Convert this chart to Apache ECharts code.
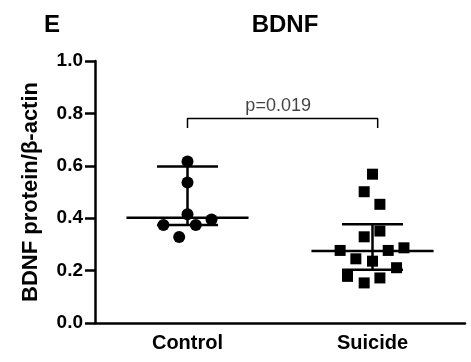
<!DOCTYPE html>
<html>
<head>
<meta charset="utf-8">
<script src="https://cdn.jsdelivr.net/npm/echarts@6/dist/echarts.min.js"></script>
<style>
  html, body { margin: 0; padding: 0; background: #fff; }
  #chart { width: 471px; height: 362px; }
</style>
</head>
<body>
<div id="chart"></div>
<script>
const groups = ['Control', 'Suicide']
const yTicks = [0, 0.2, 0.4, 0.6, 0.8, 1.0]

// per-point values with horizontal jitter (offset from group centre, in category units)
const controlValues = [0.616, 0.536, 0.415, 0.374, 0.374, 0.395, 0.328]
const controlJitter = [0.0, 0.0, 0.0, -0.13, 0.045, 0.13, -0.045]
const suicideValues = [0.568, 0.501, 0.453, 0.351, 0.329, 0.277, 0.277, 0.287, 0.245, 0.236, 0.211, 0.178, 0.172, 0.153]
const suicideJitter = [0.0, -0.045, 0.04, 0.04, -0.045, -0.175, 0.085, 0.17, -0.09, 0.0, 0.13, -0.135, 0.04, -0.045]

// median and interquartile marks per group
const medians = [0.402, 0.275]
const lowerQ = [0.374, 0.203]
const upperQ = [0.597, 0.377]

const pLabel = 'p=0.019'
const bracketY = 0.781
const bracketDrop = 0.744

const font = "'Liberation Sans', Arial, sans-serif"
const black = '#000'

function seg(x0, y0, x1, y1, width) {
  return {
    type: 'line',
    xAxisIndex: 1,
    data: [[x0, y0], [x1, y1]],
    symbol: 'none',
    silent: true,
    lineStyle: { color: black, width: width || 2.5 },
    z: 3
  }
}

const series = []
groups.forEach((_g, i) => {
  series.push(seg(i - 0.33, medians[i], i + 0.33, medians[i]))
  series.push(seg(i - 0.165, lowerQ[i], i + 0.165, lowerQ[i]))
  series.push(seg(i - 0.165, upperQ[i], i + 0.165, upperQ[i]))
  series.push(seg(i, lowerQ[i], i, upperQ[i]))
})

series.push({
  type: 'scatter',
  xAxisIndex: 1,
  symbol: 'circle',
  symbolSize: 12,
  itemStyle: { color: black, opacity: 1 },
  data: controlValues.map((v, k) => [0 + controlJitter[k], v]),
  z: 4
})
series.push({
  type: 'scatter',
  xAxisIndex: 1,
  symbol: 'rect',
  symbolSize: 11,
  itemStyle: { color: black, opacity: 1 },
  data: suicideValues.map((v, k) => [1 + suicideJitter[k], v]),
  z: 4
})

// significance bracket
series.push({
  type: 'line',
  xAxisIndex: 1,
  data: [[0, bracketDrop], [0, bracketY], [1.028, bracketY], [1.028, bracketDrop]],
  symbol: 'none',
  silent: true,
  lineStyle: { color: black, width: 1.5 }
})
series.push({
  type: 'scatter',
  xAxisIndex: 1,
  symbolSize: 0,
  silent: true,
  data: [[0.49, bracketY]],
  label: {
    show: true,
    position: 'top',
    distance: 3,
    formatter: pLabel,
    color: '#111',
    fontFamily: font,
    fontSize: 18
  }
})

const chart = echarts.init(document.getElementById('chart'))
chart.setOption({
  animation: false,
  backgroundColor: '#fff',
  title: [
    {
      text: 'BDNF',
      left: 280,
      top: 8,
      textAlign: 'center',
      textStyle: { fontFamily: font, fontWeight: 'bold', fontSize: 24, color: black }
    },
    {
      text: 'E',
      left: 39,
      top: 8,
      textStyle: { fontFamily: font, fontWeight: 'bold', fontSize: 24, color: black }
    }
  ],
  grid: { left: 95, right: 6, top: 61, bottom: 39 },
  xAxis: [
    {
      type: 'category',
      data: groups,
      boundaryGap: true,
      axisLine: { lineStyle: { color: black, width: 2.5 } },
      axisTick: { alignWithLabel: true, length: 9, lineStyle: { color: black, width: 2.5 } },
      axisLabel: { color: black, fontFamily: font, fontWeight: 'bold', fontSize: 20, margin: 10 }
    },
    {
      type: 'value',
      min: -0.5,
      max: 1.5,
      show: false
    }
  ],
  yAxis: {
    type: 'value',
    min: yTicks[0],
    max: yTicks[yTicks.length - 1],
    interval: 0.2,
    name: 'BDNF protein/β-actin',
    nameLocation: 'middle',
    nameGap: 53,
    nameTextStyle: { color: black, fontFamily: font, fontWeight: 'bold', fontSize: 22 },
    axisLine: { show: true, onZero: false, lineStyle: { color: black, width: 2.5 } },
    axisTick: { show: true, length: 10, lineStyle: { color: black, width: 2.5 } },
    axisLabel: {
      color: black,
      fontFamily: font,
      fontWeight: 'bold',
      fontSize: 19,
      margin: 12,
      formatter: (v) => v.toFixed(1)
    },
    splitLine: { show: false }
  },
  series
})
</script>
</body>
</html>
